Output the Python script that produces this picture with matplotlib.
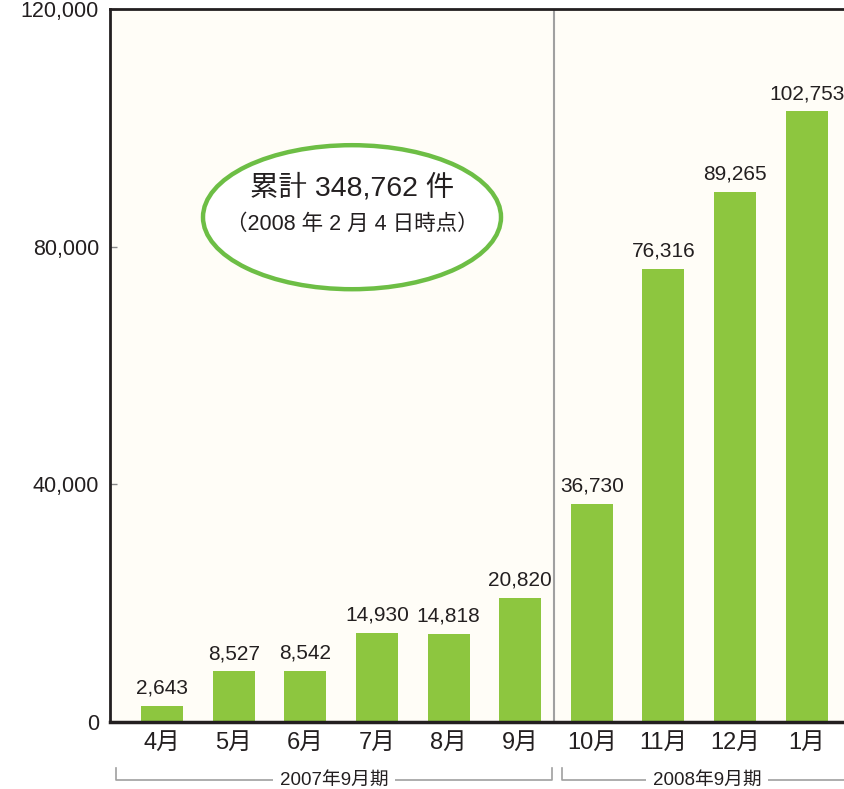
import matplotlib
matplotlib.use("Agg")
import matplotlib.pyplot as plt
from matplotlib.patches import Ellipse
import matplotlib.transforms as mtransforms

plt.rcParams['font.family'] = ['Liberation Sans', 'Noto Sans CJK JP', 'DejaVu Sans']

months = ["4月", "5月", "6月", "7月", "8月", "9月", "10月", "11月", "12月", "1月"]
values = [2643, 8527, 8542, 14930, 14818, 20820, 36730, 76316, 89265, 102753]
yticks = [0, 40000, 80000, 120000]
ytick_labels = ["0", "40,000", "80,000", "120,000"]
periods = ["2007年9月期", "2008年9月期"]
total_line1 = "累計 348,762 件"
total_line2 = "（2008 年 2 月 4 日時点）"

TEXT = "#231F20"
GREEN = "#8DC63F"
ELLIPSE_GREEN = "#6DBE45"
BG = "#FFFDF7"

fig = plt.figure(figsize=(8.44, 7.89), dpi=100)
ax = fig.add_axes([110/844, 1 - 722/789, 734/844, 713/789])
ax.set_facecolor(BG)

x = list(range(len(values)))
ax.bar(x, values, width=0.586, color=GREEN, zorder=2)

for xi, v in zip(x, values):
    ax.annotate(f"{v:,}", (xi, v), xytext=(0, 6), textcoords="offset points",
                ha="center", va="bottom", fontsize=15, color=TEXT)

ax.set_xlim(-0.726, 9.52)
ax.set_ylim(0, 120000)
ax.set_yticks(yticks)
ax.set_yticklabels(ytick_labels, fontsize=15.5, color=TEXT)
ax.tick_params(axis='y', direction='in', length=5, width=1, color="#888888", pad=8)
ax.set_xticks(x)
ax.set_xticklabels(months, fontsize=17, color=TEXT)
ax.tick_params(axis='x', length=0, pad=7)

for s in ["left", "top"]:
    ax.spines[s].set_linewidth(2)
    ax.spines[s].set_color(TEXT)
ax.spines["bottom"].set_linewidth(2.5)
ax.spines["bottom"].set_color(TEXT)
ax.spines["right"].set_visible(False)

# divider between fiscal periods
ax.axvline(5.47, color="#A0A0A0", lw=1.5, zorder=1)

# ellipse with total
ell = Ellipse((0.3297, 0.708), 0.406, 0.202, transform=ax.transAxes,
              facecolor="white", edgecolor=ELLIPSE_GREEN, lw=3.2, zorder=3)
ax.add_patch(ell)
ax.text(0.3297, 0.749, total_line1, transform=ax.transAxes, ha="center", va="center",
        fontsize=20.5, color=TEXT, zorder=4)
ax.text(0.3297, 0.698, total_line2, transform=ax.transAxes, ha="center", va="center",
        fontsize=15.5, color=TEXT, zorder=4)

# period brackets below the axis
trans = mtransforms.blended_transform_factory(ax.transData, ax.transAxes)
brackets = [(-0.642, 5.445), (5.584, 9.63)]
y_line = -0.0814
y_top = -0.0645
for (x0, x1), label in zip(brackets, periods):
    ax.plot([x0, x0, x1, x1], [y_top, y_line, y_line, y_top], transform=trans,
            color="#A0A0A0", lw=1.2, clip_on=False)
    ax.text((x0 + x1) / 2, y_line, label, transform=trans, ha="center", va="center",
            fontsize=13.5, color=TEXT, clip_on=False,
            bbox=dict(facecolor="white", edgecolor="none", pad=5))

fig.savefig("out.png", dpi=100, facecolor="white")
